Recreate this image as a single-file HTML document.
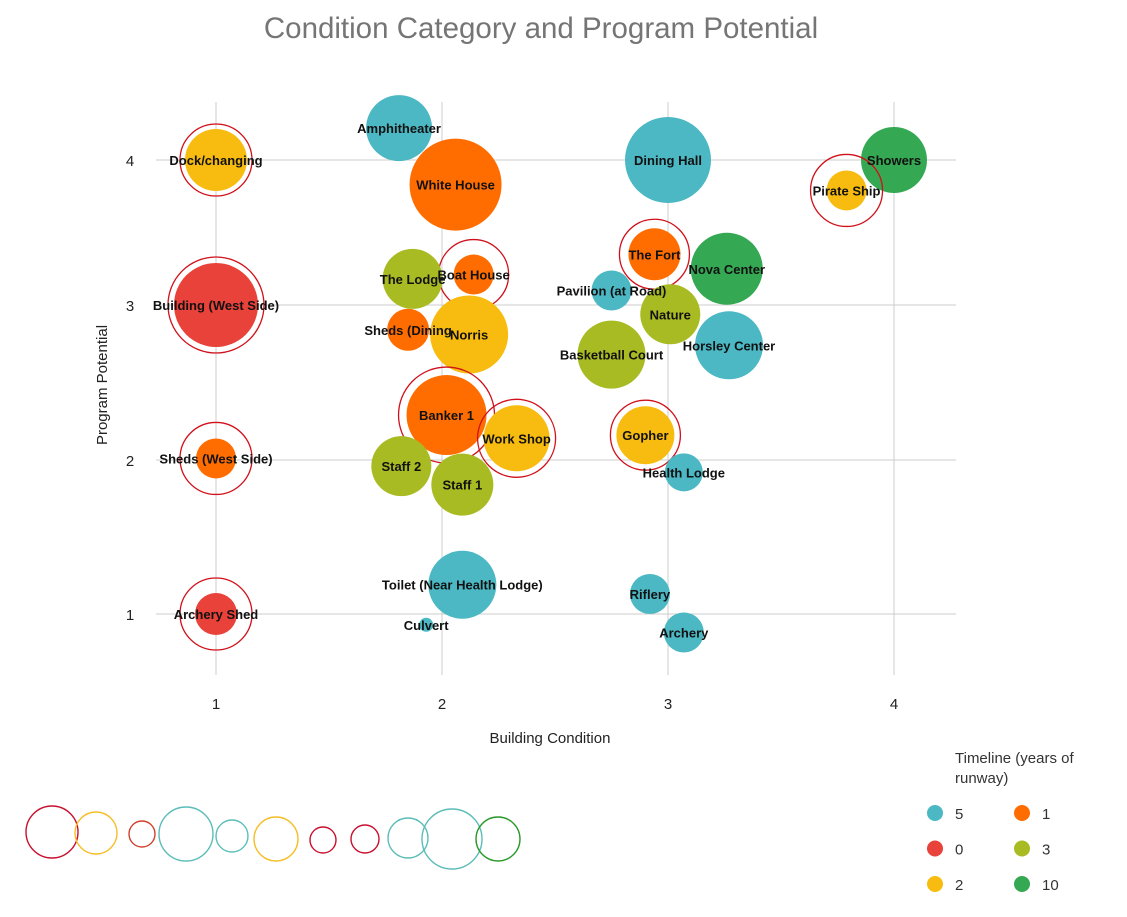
<!DOCTYPE html>
<html><head><meta charset="utf-8"><style>
body{margin:0;background:#fff;}
svg text{font-family:"Liberation Sans",sans-serif;}
.lbl{font-family:"Liberation Sans Narrow","Liberation Sans",sans-serif;font-weight:bold;font-size:13px;fill:#111;}
</style></head><body>
<svg id="c" width="1127" height="912" xmlns="http://www.w3.org/2000/svg">
<text x="541" y="38" text-anchor="middle" font-size="29.5" fill="#757575">Condition Category and Program Potential</text>
<g id="grid"></g><g id="bubbles"></g><g id="labels"></g>
<text x="550" y="743" text-anchor="middle" font-size="15" fill="#222">Building Condition</text>
<text transform="translate(107,385) rotate(-90)" text-anchor="middle" font-size="15" fill="#222">Program Potential</text>
<g>
<text x="955" y="763" font-size="15" fill="#333">Timeline (years of</text>
<text x="955" y="783" font-size="15" fill="#333">runway)</text>
<g id="leg"></g></g>
<g id="rings2"></g>
</svg>
<script>
const names=["Amphitheater","Dock/changing","White House","Dining Hall","Showers","Pirate Ship","The Fort","Nova Center","Boat House","The Lodge","Pavilion (at Road)","Building (West Side)","Nature","Sheds (Dining","Norris","Horsley Center","Basketball Court","Banker 1","Work Shop","Gopher","Sheds (West Side)","Staff 2","Health Lodge","Staff 1","Toilet (Near Health Lodge)","Riflery","Archery Shed","Culvert","Archery"];
const condition=[1.81,1,2.06,3,4,3.79,2.94,3.26,2.14,1.87,2.75,1,3.01,1.85,2.12,3.27,2.75,2.02,2.33,2.9,1,1.82,3.07,2.09,2.09,2.92,1,1.93,3.07];
const potential=[4.22,4,3.83,4,4,3.79,3.35,3.25,3.21,3.18,3.1,3,2.94,2.84,2.81,2.74,2.68,2.29,2.14,2.16,2.01,1.96,1.92,1.84,1.19,1.13,1,0.93,0.88];
const sizes=[33,31,46,43,33,20,26,36,20,30,20,42,30,21,39,34,34,40,33,29,20,30,19,31,34,20,21,7,20];
const timeline=[5,2,1,5,10,2,1,10,1,3,5,0,3,1,2,5,3,1,2,2,1,3,5,3,5,5,0,5,5];
const rings=[0,36,0,0,0,36,35,0,35,0,0,48,0,0,0,0,0,48,39,35,36,0,0,0,0,0,36,0,0];
const xTicks=[1,2,3,4], yTicks=[1,2,3,4];
const legendKeys=[5,1,0,3,2,10];
const colors={5:"#4bb8c4",1:"#ff6d00",0:"#e8423a",3:"#a9bb22",2:"#f8bc10",10:"#34a853"};
const yPix=[614,460,305,160];
const X=v=>216+(v-1)*226;
const Y=v=>{let i=Math.min(2,Math.max(0,Math.floor(v-1)));return yPix[i]+(v-1-i)*(yPix[i+1]-yPix[i]);};
const NS="http://www.w3.org/2000/svg";
function mk(t,a,p){const e=document.createElementNS(NS,t);for(const k in a)e.setAttribute(k,a[k]);p.appendChild(e);return e;}
const g=document.getElementById('grid');
xTicks.forEach(t=>{const l=mk('line',{x1:X(t),x2:X(t),y1:102,y2:675,stroke:'#ccc'},g);


const s=mk('text',{x:X(t),y:709,'text-anchor':'middle','font-size':15,fill:'#222'},g);s.textContent=t;

});
yTicks.forEach(t=>{const l=mk('line',{x1:156,x2:956,y1:Y(t),y2:Y(t),stroke:'#ccc'},g);


const s=mk('text',{x:130,y:Y(t)+6,'text-anchor':'middle','font-size':15,fill:'#222'},g);s.textContent=t;

});
const b=document.getElementById('bubbles'),lb=document.getElementById('labels');
names.forEach((n,i)=>{const cx=X(condition[i]),cy=Y(potential[i]);
const c=mk('circle',{cx,cy,r:sizes[i],fill:colors[timeline[i]]},b);


if(rings[i]){const r=mk('circle',{cx,cy,r:rings[i],fill:'none',stroke:'#d0101a','stroke-width':1.3},b);

}
const t=mk('text',{x:cx,y:cy+5,'text-anchor':'middle','class':'lbl'},lb);t.textContent=n;

});
const lg=document.getElementById('leg');
legendKeys.forEach((k,i)=>{const x=935+(i%2)*87,y=813+Math.floor(i/2)*35.5;
const c=mk('circle',{cx:x,cy:y,r:8,fill:colors[k]},lg);


const t=mk('text',{x:x+20,y:y+6,'font-size':15,fill:'#333'},lg);t.textContent=k;});
const keyX=[52,96,142,186,232,276,323,365,408,452,498],keyY=[832,833,834,834,836,839,840,839,838,839,839],keyR=[26,21,13,27,16,22,13,14,20,30,22];
const keyC=["#c8102e","#f6be28","#d0402a","#5bbdb8","#5bbdb8","#f6be28","#c8102e","#c8102e","#5bbdb8","#5bbdb8","#2a9a2a"];
const r2=document.getElementById('rings2');
keyX.forEach((x,i)=>{const c=mk('circle',{cx:x,cy:keyY[i],r:keyR[i],fill:'none',stroke:keyC[i],'stroke-width':1.4},r2);

});
</script>
</body></html>
